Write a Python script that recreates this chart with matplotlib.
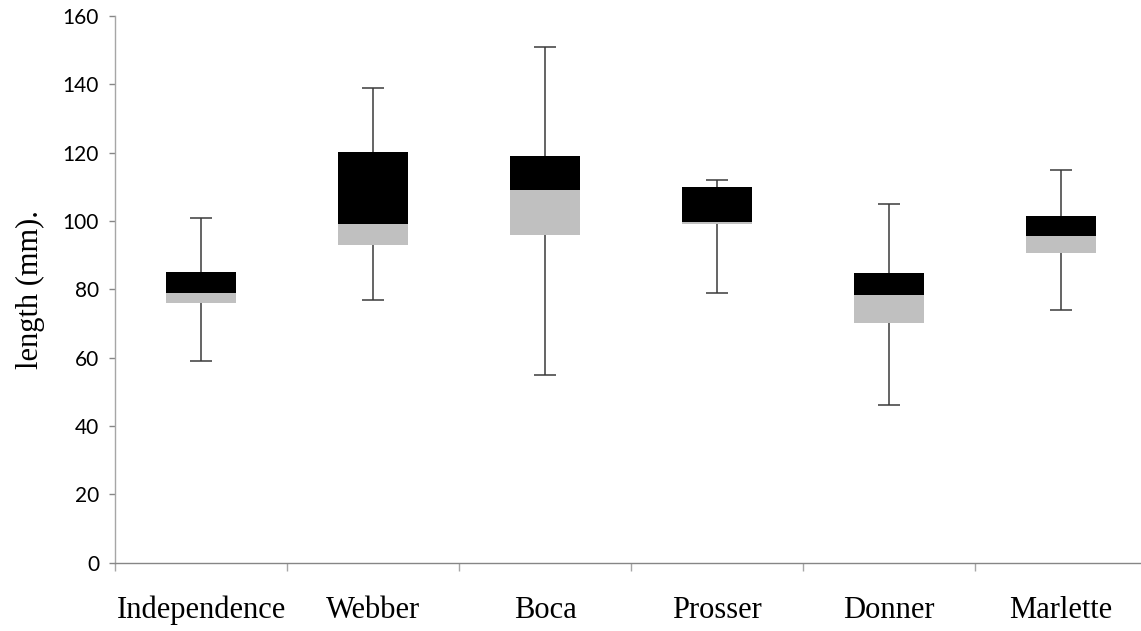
import matplotlib
matplotlib.use("Agg")
import matplotlib.pyplot as plt
import numpy as np

categories = ["Independence", "Webber", "Boca", "Prosser", "Donner", "Marlette"]
mins = [59, 77, 55, 79, 46, 74]
q1 = [76, 93, 96, 99, 70, 90.5]
medians = [79, 99, 109, 99.7, 78.3, 95.6]
q3 = [85, 120.3, 119, 110, 84.8, 101.5]
maxs = [101, 139, 151, 112, 105, 115]
yticks = [0, 20, 40, 60, 80, 100, 120, 140, 160]

W, H = 1141, 631
fig = plt.figure(figsize=(W / 100, H / 100), dpi=100)
ax = fig.add_axes([115 / W, (H - 562.6) / H, 1032 / W, (562.6 - 16) / H])

x = np.arange(len(categories))
mins_a = np.array(mins); q1_a = np.array(q1); med_a = np.array(medians)
q3_a = np.array(q3); max_a = np.array(maxs)
bw = 0.41
wc = '#3a3a3a'

# whiskers
ax.vlines(x, mins_a, q1_a, color=wc, linewidth=1.1, zorder=1)
ax.vlines(x, q3_a, max_a, color=wc, linewidth=1.1, zorder=1)
ax.plot(x, mins_a, linestyle='none', marker='_', markersize=16, markeredgewidth=1.1, color=wc, zorder=1)
ax.plot(x, max_a, linestyle='none', marker='_', markersize=16, markeredgewidth=1.1, color=wc, zorder=1)

# boxes
ax.bar(x, med_a - q1_a, bottom=q1_a, width=bw, color='#C0C0C0', zorder=2)
ax.bar(x, q3_a - med_a, bottom=med_a, width=bw, color='black', zorder=3)

ax.set_xlim(-0.5, len(categories) - 0.5)
ax.set_ylim(0, 160)

for s in ['top', 'right']:
    ax.spines[s].set_visible(False)
ax.spines['left'].set_color('#A6A6A6')
ax.spines['left'].set_linewidth(1.0)
ax.spines['bottom'].set_color('#868686')
ax.spines['bottom'].set_linewidth(1.0)

ax.set_yticks(yticks)
ax.set_yticklabels([str(v) for v in yticks], fontfamily='Lato', fontsize=15)
ax.tick_params(axis='y', direction='out', length=4.5, width=1.0, color='#868686', pad=7)

ax.set_xticks(np.arange(-0.5, len(categories), 1.0))
ax.set_xticklabels([])
ax.tick_params(axis='x', which='major', direction='out', length=6, width=1.0, color='#A6A6A6')
ax.set_xticks(x, minor=True)
ax.set_xticklabels(categories, minor=True, fontfamily='Liberation Serif', fontsize=22)
ax.tick_params(axis='x', which='minor', length=0, pad=24)

fig.text(30 / W, 1 - 290 / H, "length (mm).", rotation=90, ha='center', va='center',
         fontfamily='Liberation Serif', fontsize=22)

fig.savefig("out.png", dpi=100)
